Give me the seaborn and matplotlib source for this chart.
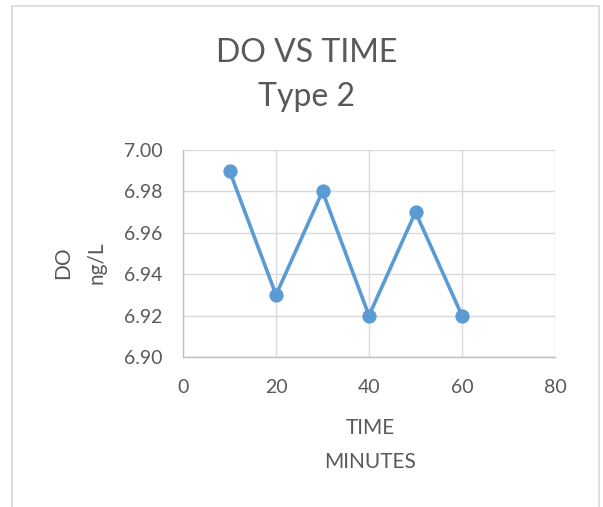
import pandas as pd
import matplotlib
matplotlib.use("Agg")
import matplotlib.pyplot as plt
import seaborn as sns
from matplotlib.patches import Rectangle

# data
time_min = [10, 20, 30, 40, 50, 60]
do_values = [6.99, 6.93, 6.98, 6.92, 6.97, 6.92]
x_ticks = [0, 20, 40, 60, 80]
y_ticks = [6.90, 6.92, 6.94, 6.96, 6.98, 7.00]

df = pd.DataFrame({"TIME": time_min, "DO": do_values})

sns.set_theme(style="white")
plt.rcParams["font.family"] = ["Lato", "DejaVu Sans"]

text_col = "#595959"
blue = "#5B9BD5"
grid_col = "#D9D9D9"

fig = plt.figure(figsize=(6.03, 5.07), dpi=100)
ax = fig.add_axes([183 / 603, 1 - 357 / 507, (555 - 183) / 603, (357 - 150) / 507])

# outer chart frame
fig.patches.append(Rectangle((12 / 603, -0.05), (599 - 12) / 603, 1 - 6 / 507 + 0.05,
                             transform=fig.transFigure, fill=False,
                             edgecolor="#D9D9D9", linewidth=1.2))

sns.lineplot(data=df, x="TIME", y="DO", ax=ax, color=blue, linewidth=2.6,
             marker="o", markersize=9.5, markeredgecolor=blue)

ax.set_xlim(0, 80)
ax.set_ylim(6.90, 7.00)
ax.set_xticks(x_ticks)
ax.set_yticks(y_ticks)
ax.set_yticklabels([f"{v:.2f}" for v in y_ticks])
ax.grid(True, color=grid_col, linewidth=1)
ax.set_axisbelow(True)
for side in ["top", "right"]:
    ax.spines[side].set_visible(False)
for side in ["left", "bottom"]:
    ax.spines[side].set_color("#BFBFBF")
    ax.spines[side].set_linewidth(1)
ax.tick_params(axis="both", colors=text_col, labelsize=14, length=0)
ax.tick_params(axis="y", pad=15)
ax.tick_params(axis="x", pad=16)

ax.set_xlabel("")
ax.set_ylabel("")
fig.text(370 / 603, 1 - 445 / 507, "TIME\nMINUTES", ha="center", va="center",
         fontsize=15, color=text_col, linespacing=1.85)
fig.text(80 / 603, 1 - 263 / 507, "DO\nng/L", ha="center", va="center",
         fontsize=15, color=text_col, rotation=90, linespacing=1.85)
fig.text(307 / 603, 1 - 75 / 507, "DO VS TIME\nType 2", ha="center", va="center",
         fontsize=23, color=text_col, linespacing=1.6)

fig.savefig("out.png", dpi=100, facecolor="white")
